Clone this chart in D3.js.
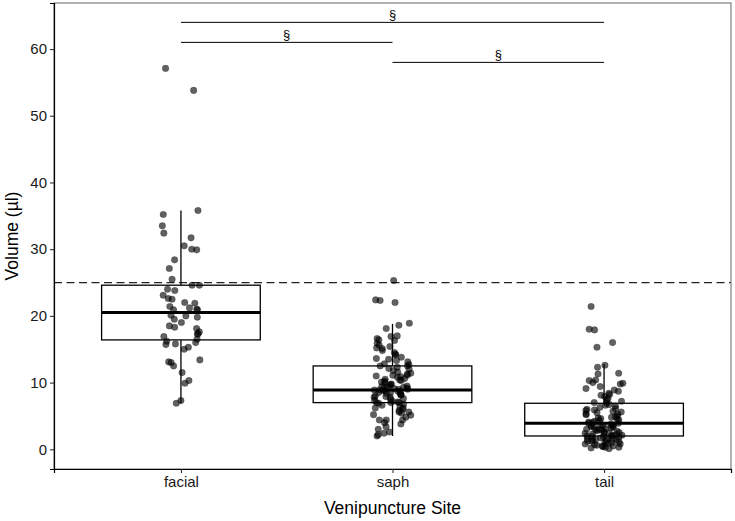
<!DOCTYPE html>
<html>
<head>
<meta charset="utf-8">
<script src="https://cdn.jsdelivr.net/npm/d3@7"></script>
<style>
  body { margin: 0; background: #fff; }
  text { font-family: "Liberation Sans", Arial, sans-serif; }
</style>
</head>
<body>
<script>
// groups on the x axis
var sites = ["facial", "saph", "tail"];

// volume per draw
var facialVol = [57.1, 53.8, 35.8, 35.2, 33.5, 32.4, 31.7, 30.5, 29.9, 30.0, 28.4, 27.1, 25.5, 24.6, 24.6, 24.0, 23.8, 23.1,
  22.5, 22.6, 21.9, 21.4, 21.0, 20.1, 19.8, 20.9, 20.9, 20.0, 19.0, 18.5, 18.1, 18.3, 17.6, 17.3, 17.3, 16.9, 16.5, 16.0,
  15.8, 15.7, 15.3, 15.0, 13.0, 13.1, 13.4, 12.5, 11.5, 10.3, 9.9, 7.3, 6.9, 22.0, 19.5, 21.2, 16.2];

var saphVol = [25.3, 22.4, 22.0, 22.3, 18.6, 18.9, 18.1, 17.0, 16.9, 16.6, 16.4, 16.3, 15.9, 15.6, 15.4, 15.1, 14.8, 14.2,
  13.6, 13.8, 14.2, 13.5, 12.8, 12.5, 12.5, 12.1, 11.6, 11.1, 11.4, 11.1, 10.9, 10.4, 10.1, 10.5, 9.6, 9.3, 9.1, 9.3, 9.3,
  8.8, 8.7, 8.5, 8.5, 8.1, 8.0, 7.8, 7.8, 7.1, 7.0, 7.0, 7.0, 6.4, 6.2, 6.2, 5.4, 5.6, 5.6, 4.4, 4.4, 4.4, 5.1, 3.4, 2.6,
  2.0, 2.2, 2.4, 6.8, 7.3, 7.5, 7.6, 8.2, 8.4, 8.6, 8.9, 8.9, 9.0, 9.0, 9.2, 9.4, 9.5, 9.8, 10.0, 10.2, 10.6, 10.8, 11.3,
  11.8, 12.3, 12.7, 13.1, 6.6, 6.0, 5.8, 7.2, 8.3, 9.7, 3.8, 4.8, 5.2, 6.9, 7.9, 8.8, 10.3, 11.0, 12.0, 13.3, 14.5, 15.2,
  3.0, 4.0];

var tailVol = [21.4, 18.0, 17.9, 16.0, 15.3, 12.6, 12.3, 11.4, 11.3, 10.4, 10.3, 9.9, 9.8, 9.1, 8.9, 8.7, 8.2, 8.1, 7.9,
  7.4, 7.0, 6.9, 6.7, 6.5, 5.5, 5.7, 5.3, 5.3, 4.9, 4.4, 4.6, 0.1, 0.2, 0.3, 0.3, 0.4, 0.5, 0.6, 0.7, 0.8, 0.9, 1.0, 1.0,
  1.1, 1.2, 1.3, 1.4, 1.5, 1.5, 1.6, 1.7, 1.8, 1.9, 1.9, 2.0, 2.0, 2.1, 2.1, 2.2, 2.3, 2.4, 2.5, 2.5, 2.6, 2.7, 2.8, 2.9,
  3.0, 3.0, 3.1, 3.2, 3.3, 3.4, 3.5, 3.5, 3.6, 3.7, 3.8, 3.9, 3.9, 4.0, 4.1, 4.2, 4.3, 4.5, 4.7, 5.0, 5.2, 5.6, 5.9, 6.1,
  6.3, 6.6, 7.2, 7.6, 8.4, 9.4, 10.0, 6.0, 2.4, 1.2, 0.8, 3.3, 4.8, 5.8, 1.7, 2.9, 3.6, 0.5, 1.4];

// box stats per site (lower whisker, q1, median, q3, upper whisker)
var whiskLo = [6.9, 2.0, 0.1];
var q1 = [16.4, 7.0, 2.0];
var medians = [20.5, 8.9, 3.9];
var q3 = [24.6, 12.5, 6.9];
var whiskHi = [35.8, 18.8, 12.8];

var yTicks = [0, 10, 20, 30, 40, 50, 60];
var cutoff = 25;

// significance brackets: from, to, height
var brackets = [
  { from: "facial", to: "tail", y: 64, label: "§" },
  { from: "facial", to: "saph", y: 61, label: "§" },
  { from: "saph", to: "tail", y: 58, label: "§" }
];

var W = 735, H = 521;
var margin = { top: 3, right: 4, bottom: 52, left: 54 };
var pw = W - margin.left - margin.right, ph = H - margin.top - margin.bottom;

var svg = d3.select("body").append("svg").attr("width", W).attr("height", H);
var g = svg.append("g").attr("transform", "translate(" + margin.left + "," + margin.top + ")");

// ggplot-like discrete scale with 0.6 expansion
var x = d3.scaleLinear().domain([0.4, 3.6]).range([0, pw]);
function xs(name) { return x(sites.indexOf(name) + 1); }
var y = d3.scaleLinear().domain([-2.95, 66.9]).range([ph, 0]);

// seeded jitter so the picture is stable
var seed = 12345;
function rnd() { seed = (seed * 16807) % 2147483647; return (seed - 1) / 2147483646; }

var allPts = [];
[facialVol, saphVol, tailVol].forEach(function (arr, i) {
  arr.forEach(function (v) { allPts.push({ site: sites[i], v: v, j: (rnd() * 2 - 1) * 0.09 }); });
});

// dashed cutoff line
g.append("line")
  .attr("x1", 0).attr("x2", pw)
  .attr("y1", y(cutoff)).attr("y2", y(cutoff))
  .attr("stroke", "#222").attr("stroke-width", 1.2).attr("stroke-dasharray", "8,4.5");

// jittered points
g.selectAll("circle.pt").data(allPts).enter().append("circle")
  .attr("class", "pt")
  .attr("cx", function (d) { return x(sites.indexOf(d.site) + 1 + d.j); })
  .attr("cy", function (d) { return y(d.v); })
  .attr("r", 3.3)
  .style("fill", "#000").style("fill-opacity", 0.62)
  .style("stroke", "#000").style("stroke-opacity", 0.3).style("stroke-width", 0.6);

// boxplots
var bw = 0.75 * (x(2) - x(1));
var boxes = g.selectAll("g.box").data(sites).enter().append("g").attr("class", "box");
boxes.append("line")
  .attr("x1", function (d) { return xs(d); }).attr("x2", function (d) { return xs(d); })
  .attr("y1", function (d, i) { return y(q3[i]); }).attr("y2", function (d, i) { return y(whiskHi[i]); })
  .attr("stroke", "#000").attr("stroke-width", 1.3);
boxes.append("line")
  .attr("x1", function (d) { return xs(d); }).attr("x2", function (d) { return xs(d); })
  .attr("y1", function (d, i) { return y(q1[i]); }).attr("y2", function (d, i) { return y(whiskLo[i]); })
  .attr("stroke", "#000").attr("stroke-width", 1.3);
boxes.append("rect")
  .attr("x", function (d) { return xs(d) - bw / 2; })
  .attr("width", bw)
  .attr("y", function (d, i) { return y(q3[i]); })
  .attr("height", function (d, i) { return y(q1[i]) - y(q3[i]); })
  .attr("fill", "none").attr("stroke", "#000").attr("stroke-width", 1.3);
boxes.append("line")
  .attr("x1", function (d) { return xs(d) - bw / 2; }).attr("x2", function (d) { return xs(d) + bw / 2; })
  .attr("y1", function (d, i) { return y(medians[i]); }).attr("y2", function (d, i) { return y(medians[i]); })
  .attr("stroke", "#000").attr("stroke-width", 3);

// significance brackets
var br = g.selectAll("g.br").data(brackets).enter().append("g").attr("class", "br");
br.append("line")
  .attr("x1", function (d) { return xs(d.from); }).attr("x2", function (d) { return xs(d.to); })
  .attr("y1", function (d) { return y(d.y); }).attr("y2", function (d) { return y(d.y); })
  .attr("stroke", "#000").attr("stroke-width", 1);
br.append("text")
  .attr("x", function (d) { return (xs(d.from) + xs(d.to)) / 2; })
  .attr("y", function (d) { return y(d.y) - 3; })
  .attr("text-anchor", "middle").style("font-size", "13px").text(function (d) { return d.label; });

// panel border
g.append("rect").attr("width", pw).attr("height", ph)
  .attr("fill", "none").attr("stroke", "#666").attr("stroke-width", 1);

// axes
var yAxis = g.append("g").call(d3.axisLeft(y).tickValues(yTicks).tickSize(4).tickPadding(3));
var xAxis = g.append("g").attr("transform", "translate(0," + ph + ")")
  .call(d3.axisBottom(x).tickValues([1, 2, 3]).tickFormat(function (d) { return sites[d - 1]; }).tickSize(4).tickPadding(3));
[yAxis, xAxis].forEach(function (a) {
  a.select(".domain").attr("stroke", "#000").attr("stroke-width", 1.2);
  a.selectAll(".tick line").attr("stroke", "#333").attr("stroke-width", 1.1);
  a.selectAll(".tick text").style("font-size", "15px").style("fill", "#1a1a1a").style("font-family", "Liberation Sans, Arial, sans-serif");
});

// axis titles
svg.append("text").attr("x", margin.left + pw / 2).attr("y", 514)
  .attr("text-anchor", "middle").style("font-size", "17.5px").text("Venipuncture Site");
svg.append("text").attr("transform", "translate(18," + (margin.top + ph / 2) + ") rotate(-90)")
  .attr("text-anchor", "middle").style("font-size", "17.5px").text("Volume (µl)");
</script>
</body>
</html>
